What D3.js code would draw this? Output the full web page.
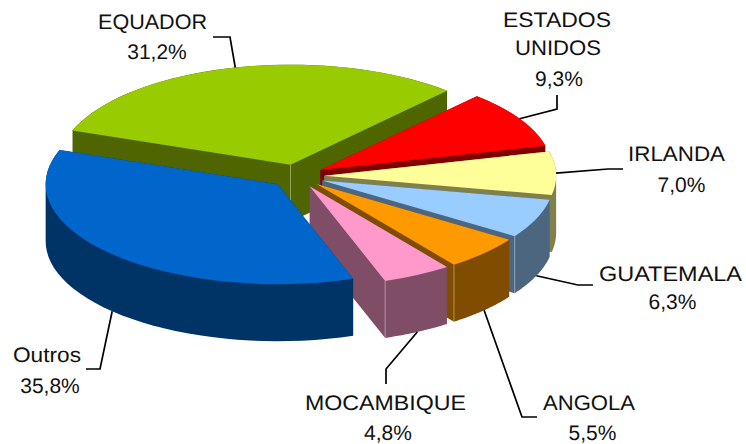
<!DOCTYPE html>
<html lang="pt-br">
  <head>
    <meta charset="utf-8">
    <title>Pizza 3D</title>
    <script src="https://d3js.org/d3.v7.min.js"></script>
    <style>
      html, body { margin: 0; padding: 0; background: #fff; }
      svg { display: block; }
      .rotulo text { font: 21px "Liberation Sans", Arial, sans-serif; fill: #111; text-anchor: middle; text-rendering: geometricPrecision; }
      .guia { fill: none; stroke: #000; stroke-width: 1.7; }
    </style>
  </head>
  <body>
    <div id="chart"></div>
    <script type="text/javascript">
      "use strict"
      // dados
      var paises = ["EQUADOR", "ESTADOS UNIDOS", "IRLANDA", "GUATEMALA", "ANGOLA", "MOCAMBIQUE", "Outros"];
      var percentuais = [31.2, 9.3, 7.0, 6.3, 5.5, 4.8, 35.8];
      var coresTopo = ["#99cc00", "#ff0000", "#ffff99", "#99ccff", "#ff9900", "#ff99cc", "#0066cc"];
      var coresLado = ["#4f6600", "#800000", "#80804d", "#4d6680", "#804d00", "#804d66", "#003366"];

      // layout dos rotulos: linhas de texto, largura, centro x, baseline y e cotovelos da linha guia
      var linhasRotulo = [["EQUADOR"], ["ESTADOS", "UNIDOS"], ["IRLANDA"], ["GUATEMALA"], ["ANGOLA"], ["MOCAMBIQUE"], ["Outros"]];
      var largurasRotulo = [[109], [108, 86], [97], [143], [92], [161], [68]];
      var rotuloX = [152.5, 557, 676.5, 670.5, 589, 385.5, 47];
      var pctX = [157, 559, 681.5, 672.5, 592.5, 388, 50];
      var rotuloY = [29, 27, 161, 281, 410, 410, 362];
      var pctY = [59, 86, 192, 309, 440, 440, 393];
      var cotovelos = [
        [[230, 37], [213, 37]],
        [[557, 109], [557, 95]],
        [[608, 169], [623, 169]],
        [[578, 285], [593, 285]],
        [[522, 417], [537, 417]],
        [[386, 369], [386, 384]],
        [[100, 369], [86, 369]]
      ];
      var guiaNaParede = [false, false, false, true, true, true, true];

      var larguraSVG = 746, alturaSVG = 444;
      var centro = {x: 297, y: 176};
      var raioX = 232, raioY = 100, profundidade = 57, explosao = 0.117;
      var inicio = -70 * Math.PI / 180;

      var grafico = d3.select('#chart')
        .append('svg')
          .attr('width', larguraSVG)
          .attr('height', alturaSVG);

      var pizza = d3.pie().sort(null).startAngle(inicio).endAngle(inicio + 2 * Math.PI);
      var arco = d3.arc().innerRadius(0).outerRadius(raioX);
      var fatias = pizza(percentuais);

      // angulo d3 (0 = topo, sentido horario) -> ponto na elipse
      function ponto(f, a, r) {
        var meio = (f.startAngle + f.endAngle) / 2;
        return [
          centro.x + raioX * (explosao * Math.sin(meio) + r * Math.sin(a)),
          centro.y - raioY * (explosao * Math.cos(meio) + r * Math.cos(a))
        ];
      }

      // contorno do topo e silhueta da extrusao
      function contorno(f) {
        var pts = [ponto(f, 0, 0)];
        d3.range(0, 1.0001, 1 / 40).forEach(function(t) {
          pts.push(ponto(f, f.startAngle + t * (f.endAngle - f.startAngle), 1));
        });
        return pts;
      }

      var linhaFechada = d3.line().curve(d3.curveLinearClosed);
      var linha = d3.line();

      var grupos = grafico.selectAll('.fatia')
        .data(fatias)
        .enter()
          .append('g')
            .attr('class', 'fatia');

      grupos.append('path')
        .attr('fill', (d, i) => coresLado[i])
        .attr('d', function(d) {
          var pts = contorno(d);
          var baixo = pts.map(p => [p[0], p[1] + profundidade]);
          return linhaFechada(d3.polygonHull(pts.concat(baixo)));
        });

      // aresta vertical clara na quina da parede
      grupos.filter((d, i) => i >= 3 && i <= 5).append('path')
        .attr('stroke', '#ffffff')
        .attr('stroke-opacity', 0.4)
        .attr('d', function(d) {
          var p = ponto(d, d.endAngle, 1);
          return linha([p, [p[0], p[1] + profundidade]]);
        });
      grupos.filter((d, i) => i === 0).append('path')
        .attr('stroke', '#ffffff')
        .attr('stroke-opacity', 0.4)
        .attr('d', function(d) {
          var p = ponto(d, 0, 0);
          return linha([p, [p[0], p[1] + profundidade]]);
        });

      // topo: arco do d3 achatado para a elipse
      grupos.append('path')
        .attr('fill', (d, i) => coresTopo[i])
        .attr('transform', function(d) {
          var c = ponto(d, 0, 0);
          return 'translate(' + c[0] + ',' + c[1] + ') scale(1,' + (raioY / raioX) + ')';
        })
        .attr('d', arco);

      // linhas guia, saindo do meio do arco de cada fatia
      grafico.selectAll('.guia')
        .data(fatias)
        .enter()
          .append('path')
            .attr('class', 'guia')
            .attr('d', function(d, i) {
              var meio = (d.startAngle + d.endAngle) / 2;
              var p = ponto(d, meio, 1);
              if (guiaNaParede[i]) p = [p[0], p[1] + profundidade];
              return linha([p].concat(cotovelos[i]));
            });

      // rotulos
      var rotulos = grafico.selectAll('.rotulo')
        .data(paises)
        .enter()
          .append('g')
            .attr('class', 'rotulo');

      rotulos.each(function(d, i) {
        var g = d3.select(this);
        linhasRotulo[i].forEach(function(txt, k) {
          g.append('text')
            .attr('x', rotuloX[i] + (k ? 1 : 0))
            .attr('y', rotuloY[i] + k * 28)
            .attr('textLength', largurasRotulo[i][k])
            .attr('lengthAdjust', 'spacingAndGlyphs')
            .text(txt);
        });
        g.append('text')
          .attr('x', pctX[i])
          .attr('y', pctY[i])
          .text(d3.format('.1f')(percentuais[i]).replace('.', ',') + '%');
      });
    </script>
  </body>
</html>
